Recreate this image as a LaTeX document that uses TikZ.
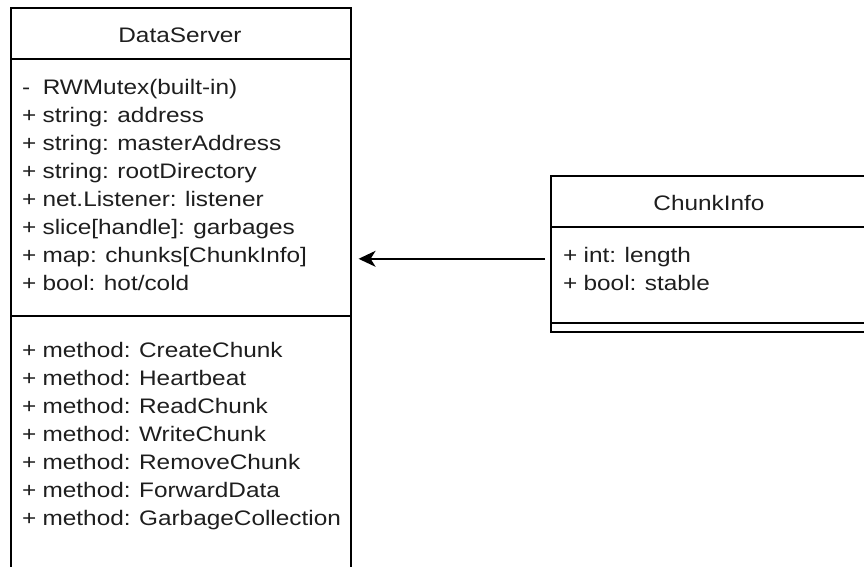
\documentclass[tikz,border=0pt]{standalone}
\usepackage{fontspec}
\setmainfont{Liberation Sans}[FakeStretch=1.16, WordSpace=0.92]
\usetikzlibrary{arrows.meta,calc}
\definecolor{inktext}{HTML}{1E1E1E}
\tikzset{
  classbox/.style={draw, line width=1.6pt, inner sep=0pt, anchor=north west},
  member/.style={anchor=base west, inner sep=0pt, text=inktext, font=\fontsize{21}{28}\selectfont},
  classname/.style={anchor=base, inner sep=0pt, text=inktext, font=\fontsize{21}{28}\selectfont},
  rule/.style={line width=1.6pt},
  assoc/.style={line width=1.6pt, -{Stealth[length=17pt,width=16pt,inset=5pt]}},
}
\begin{document}
\begin{tikzpicture}[x=1pt,y=-1pt]
\useasboundingbox (0,0) rectangle (864,566);
\clip (0,0) rectangle (864,566);

% DataServer class
\node[classbox, minimum width=340pt, minimum height=600pt] (ds) at (10,7) {};
\draw[rule] ([yshift=-52pt]ds.north west) -- ([yshift=-52pt]ds.north east);
\draw[rule] ([yshift=-309pt]ds.north west) -- ([yshift=-309pt]ds.north east);
\node[classname] (dsname) at (180,42) {DataServer};
\node[member] (ds1) at (22,94)  {-\ \ RWMutex(built-in)};
\node[member] (ds2) at (22,122) {+ string: address};
\node[member] (ds3) at (22,150) {+ string: masterAddress};
\node[member] (ds4) at (22,178) {+ string: rootDirectory};
\node[member] (ds5) at (22,206) {+ net.Listener: listener};
\node[member] (ds6) at (22,234) {+ slice[handle]: garbages};
\node[member] (ds7) at (22,262) {+ map: chunks[ChunkInfo]};
\node[member] (ds8) at (22,290) {+ bool: hot/cold};
\node[member] (dm1) at (22,357) {+ method: CreateChunk};
\node[member] (dm2) at (22,385) {+ method: Heartbeat};
\node[member] (dm3) at (22,413) {+ method: ReadChunk};
\node[member] (dm4) at (22,441) {+ method: WriteChunk};
\node[member] (dm5) at (22,469) {+ method: RemoveChunk};
\node[member] (dm6) at (22,497) {+ method: ForwardData};
\node[member] (dm7) at (22,525) {+ method: GarbageCollection};

% ChunkInfo class
\node[classbox, minimum width=318pt, minimum height=156pt] (ci) at (550,175) {};
\draw[rule] ([yshift=-52pt]ci.north west) -- ([yshift=-52pt]ci.north east);
\draw[rule] ([yshift=-148pt]ci.north west) -- ([yshift=-148pt]ci.north east);
\node[classname] (ciname) at (709,210) {ChunkInfo};
\node[member] (ci1) at (563,262) {+ int: length};
\node[member] (ci2) at (563,290) {+ bool: stable};

% association ChunkInfo -> DataServer
\coordinate (tail) at ([xshift=-5pt,yshift=-5pt]ci.west);
\coordinate (tip) at ($(ds.east |- tail)+(7,0)$);
\draw[assoc] (tail) -- (tip);
\end{tikzpicture}
\end{document}
